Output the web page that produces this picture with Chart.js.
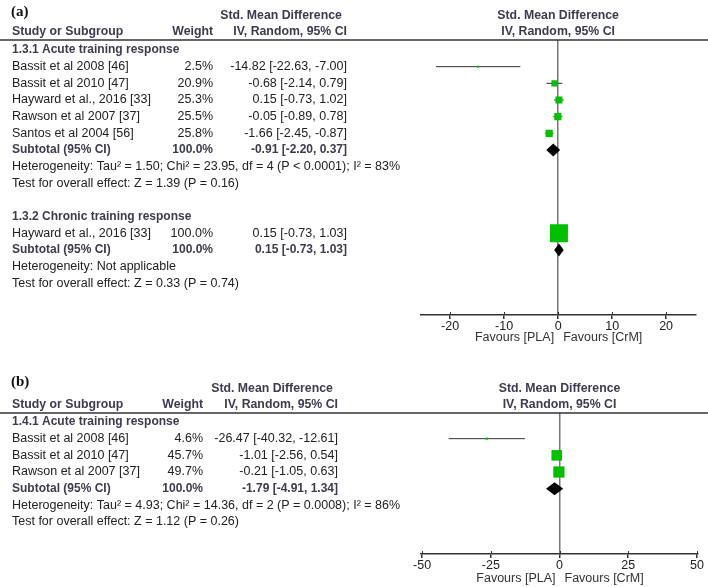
<!DOCTYPE html>
<html>
<head>
<meta charset="utf-8">
<script src="https://cdn.jsdelivr.net/npm/chart.js@4.4.1/dist/chart.umd.min.js"></script>
<style>
    body { margin: 0; background: #fff; width: 708px; height: 587px; overflow: hidden; }
    canvas { position: absolute; left: 0; }
    #chartA { top: 0; }
    #chartB { top: 345px; }
</style>
</head>
<body>
<canvas id="chartA" width="708" height="345"></canvas>
<canvas id="chartB" width="708" height="242"></canvas>
<script>
// (a) 1.3.1 Acute training response
const groupA1Title = '1.3.1 Acute training response';
const studiesA1 = ['Bassit et al 2008 [46]', 'Bassit et al 2010 [47]', 'Hayward et al., 2016 [33]', 'Rawson et al 2007 [37]', 'Santos et al 2004 [56]'];
const weightsA1 = [2.5, 20.9, 25.3, 25.5, 25.8];
const smdA1 = [-14.82, -0.68, 0.15, -0.05, -1.66];
const lowA1 = [-22.63, -2.14, -0.73, -0.89, -2.45];
const highA1 = [-7.00, 0.79, 1.02, 0.78, -0.87];
const subtotalA1 = [-0.91, -2.20, 0.37]; // estimate, low, high
const hetA1 = 'Heterogeneity: Tau² = 1.50; Chi² = 23.95, df = 4 (P < 0.0001); I² = 83%';
const testA1 = 'Test for overall effect: Z = 1.39 (P = 0.16)';

// (a) 1.3.2 Chronic training response
const groupA2Title = '1.3.2 Chronic training response';
const studiesA2 = ['Hayward et al., 2016 [33]'];
const weightsA2 = [100.0];
const smdA2 = [0.15];
const lowA2 = [-0.73];
const highA2 = [1.03];
const subtotalA2 = [0.15, -0.73, 1.03];
const hetA2 = 'Heterogeneity: Not applicable';
const testA2 = 'Test for overall effect: Z = 0.33 (P = 0.74)';

// (b) 1.4.1 Acute training response
const groupB1Title = '1.4.1 Acute training response';
const studiesB1 = ['Bassit et al 2008 [46]', 'Bassit et al 2010 [47]', 'Rawson et al 2007 [37]'];
const weightsB1 = [4.6, 45.7, 49.7];
const smdB1 = [-26.47, -1.01, -0.21];
const lowB1 = [-40.32, -2.56, -1.05];
const highB1 = [-12.61, 0.54, 0.63];
const subtotalB1 = [-1.79, -4.91, 1.34];
const hetB1 = 'Heterogeneity: Tau² = 4.93; Chi² = 14.36, df = 2 (P = 0.0008); I² = 86%';
const testB1 = 'Test for overall effect: Z = 1.12 (P = 0.26)';

const ticksA = [-20, -10, 0, 10, 20];
const ticksB = [-50, -25, 0, 25, 50];

const SANS = '"Liberation Sans", Arial, sans-serif';
const GREEN = '#00c000';

function group(title, names, weights, est, low, high, sub, het, test) {
    return { title, names, weights, est, low, high, sub, het, test };
}

// lay out table rows (one row = one unit on the y scale)
function buildRows(groups) {
    const rows = [];
    let r = 0;
    groups.forEach((g, gi) => {
        if (gi > 0) r++;
        rows.push({ r: r++, kind: 'title', text: g.title });
        g.names.forEach((n, i) => {
            rows.push({ r: r++, kind: 'study', text: n, w: g.weights[i], est: g.est[i], lo: g.low[i], hi: g.high[i] });
        });
        rows.push({ r: r++, kind: 'sub', text: 'Subtotal (95% CI)', w: 100, est: g.sub[0], lo: g.sub[1], hi: g.sub[2] });
        rows.push({ r: r++, kind: 'note', text: g.het });
        rows.push({ r: r++, kind: 'note', text: g.test });
    });
    return rows;
}

function ciText(est, lo, hi) {
    return est.toFixed(2) + ' [' + lo.toFixed(2) + ', ' + hi.toFixed(2) + ']';
}

function squareSide(w) {
    return Math.max(2, 18 * Math.pow(w / 100, 0.68));
}

function tablePlugin(p, rows) {
    return {
        id: 'table' + p.label,
        afterDatasetsDraw(chart) {
            const ctx = chart.ctx;
            const xs = chart.scales.x, ys = chart.scales.y, area = chart.chartArea;
            const zero = xs.getPixelForValue(0);
            ctx.save();

            // header rule
            ctx.strokeStyle = '#333';
            ctx.lineWidth = 1.5;
            ctx.beginPath();
            ctx.moveTo(0, area.top);
            ctx.lineTo(chart.width, area.top);
            ctx.stroke();

            // tick marks crossing the axis
            ctx.lineWidth = 1;
            xs.ticks.forEach(t => {
                const px = Math.round(xs.getPixelForValue(t.value)) + 0.5;
                ctx.beginPath();
                ctx.moveTo(px, area.bottom - 3);
                ctx.lineTo(px, area.bottom);
                ctx.stroke();
            });

            // subtotal diamonds
            ctx.fillStyle = '#000';
            rows.filter(d => d.kind === 'sub').forEach(d => {
                const py = ys.getPixelForValue(d.r);
                ctx.beginPath();
                ctx.moveTo(xs.getPixelForValue(d.lo), py);
                ctx.lineTo(xs.getPixelForValue(d.est), py - 6.5);
                ctx.lineTo(xs.getPixelForValue(d.hi), py);
                ctx.lineTo(xs.getPixelForValue(d.est), py + 6.5);
                ctx.closePath();
                ctx.fill();
            });

            ctx.textBaseline = 'middle';

            // panel label
            ctx.fillStyle = '#111';
            ctx.font = 'bold 15px "Liberation Serif", serif';
            ctx.textAlign = 'left';
            ctx.fillText(p.label, 11, area.top - p.labelOff);

            // column headers
            ctx.fillStyle = '#3c3c4c';
            ctx.font = 'bold 12.3px ' + SANS;
            ctx.textAlign = 'center';
            ctx.fillText('Std. Mean Difference', p.ciX - 66, area.top - 24);
            ctx.fillText('Std. Mean Difference', zero, area.top - 24);
            ctx.fillText('IV, Random, 95% CI', zero, area.top - 8);
            ctx.textAlign = 'left';
            ctx.fillText('Study or Subgroup', 12, area.top - 8);
            ctx.textAlign = 'right';
            ctx.fillText('Weight', p.wX, area.top - 8);
            ctx.fillText('IV, Random, 95% CI', p.ciX, area.top - 8);

            // rows
            rows.forEach(d => {
                const py = ys.getPixelForValue(d.r);
                const bold = d.kind === 'title' || d.kind === 'sub';
                ctx.font = bold ? 'bold 12px ' + SANS : '12.5px ' + SANS;
                ctx.fillStyle = bold ? '#3c3c4c' : '#222';
                ctx.textAlign = 'left';
                ctx.fillText(d.text, 12, py);
                if (d.kind === 'study' || d.kind === 'sub') {
                    ctx.textAlign = 'right';
                    ctx.fillText(d.w.toFixed(1) + '%', p.wX, py);
                    ctx.fillText(ciText(d.est, d.lo, d.hi), p.ciX, py);
                }
            });

            // favours labels
            ctx.font = '12.5px ' + SANS;
            ctx.fillStyle = '#333';
            ctx.textAlign = 'right';
            ctx.fillText('Favours [PLA]', zero - 4, area.bottom + p.favOff);
            ctx.textAlign = 'left';
            ctx.fillText('Favours [CrM]', zero + 5, area.bottom + p.favOff);
            ctx.restore();
        }
    };
}

function makeChart(id, p, groups) {
    const rows = buildRows(groups);
    const studies = rows.filter(d => d.kind === 'study');
    const datasets = [{
        type: 'scatter',
        order: 0,
        data: studies.map(d => ({ x: d.est, y: d.r })),
        pointStyle: 'rect',
        pointRadius: studies.map(d => squareSide(d.w) / Math.SQRT2),
        backgroundColor: GREEN,
        borderWidth: 0
    }];
    studies.forEach(d => datasets.push({
        type: 'line',
        order: 1,
        data: [{ x: d.lo, y: d.r }, { x: d.hi, y: d.r }],
        borderColor: '#333',
        borderWidth: 1,
        pointRadius: 0
    }));

    return new Chart(document.getElementById(id), {
        type: 'scatter',
        data: { datasets },
        options: {
            responsive: false,
            animation: false,
            devicePixelRatio: 1,
            events: [],
            layout: { padding: { left: 421, right: 10, top: p.top, bottom: 0 } },
            plugins: { legend: { display: false }, tooltip: { enabled: false } },
            scales: {
                x: {
                    type: 'linear',
                    min: p.min,
                    max: p.max,
                    afterBuildTicks: s => { s.ticks = p.ticks.map(v => ({ value: v })); },
                    afterFit: s => { s.height = p.axisH; },
                    ticks: {
                        color: '#222',
                        font: { family: SANS, size: 12.5 },
                        padding: 0,
                        maxRotation: 0
                    },
                    grid: {
                        color: c => (c.tick && c.tick.value === 0) ? '#777' : 'rgba(0,0,0,0)',
                        lineWidth: 1.5,
                        tickColor: '#333',
                        tickLength: 4
                    },
                    border: { color: '#333', width: 1.5 }
                },
                y: {
                    type: 'linear',
                    display: false,
                    reverse: true,
                    min: p.yMin,
                    max: p.yMax
                }
            }
        },
        plugins: [tablePlugin(p, rows)]
    });
}

makeChart('chartA', {
    label: '(a)', labelOff: 28, top: 40, axisH: 30, favOff: 23,
    min: -25.4, max: 25.4, ticks: ticksA, yMin: -0.6, yMax: 15.9,
    wX: 213, ciX: 347
}, [
    group(groupA1Title, studiesA1, weightsA1, smdA1, lowA1, highA1, subtotalA1, hetA1, testA1),
    group(groupA2Title, studiesA2, weightsA2, smdA2, lowA2, highA2, subtotalA2, hetA2, testA2)
]);

makeChart('chartB', {
    label: '(b)', labelOff: 31, top: 68, axisH: 33, favOff: 25,
    min: -50.4, max: 50.4, ticks: ticksB, yMin: -0.54, yMax: 7.92,
    wX: 203, ciX: 338
}, [
    group(groupB1Title, studiesB1, weightsB1, smdB1, lowB1, highB1, subtotalB1, hetB1, testB1)
]);
</script>
</body>
</html>
